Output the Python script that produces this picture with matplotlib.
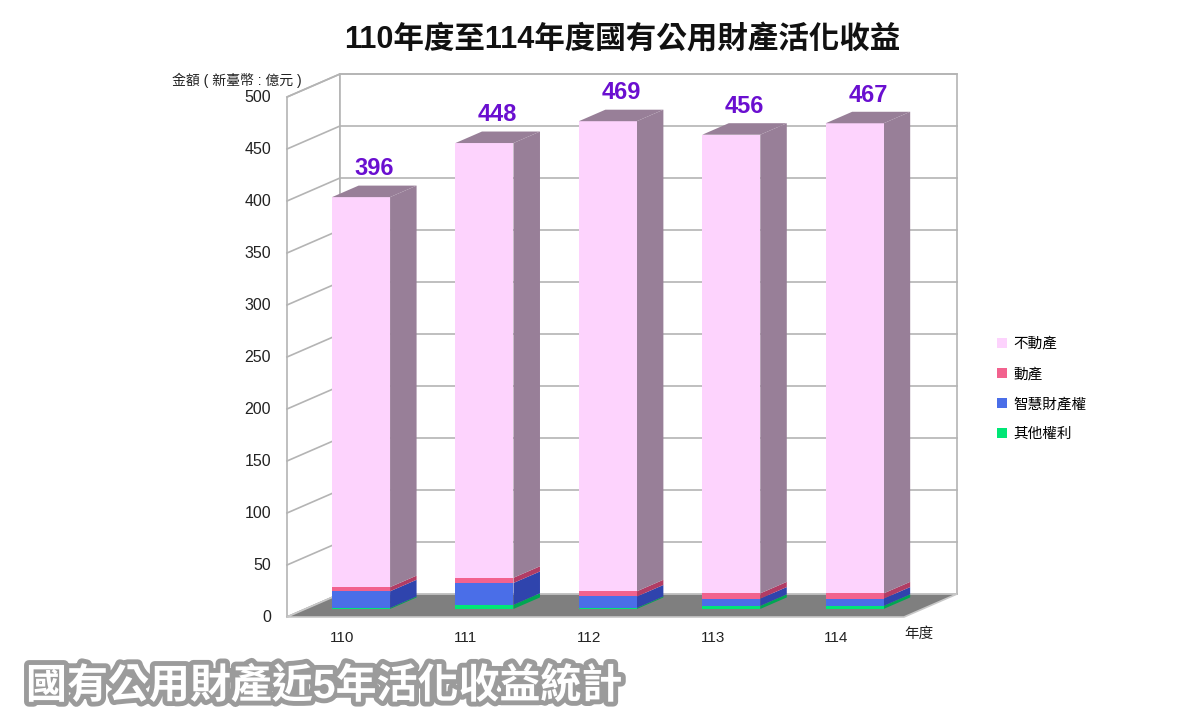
import matplotlib
matplotlib.use('Agg')
import matplotlib.pyplot as plt
from matplotlib.patches import Polygon, Patch
import matplotlib.patheffects as pe

plt.rcParams['font.family'] = ['Liberation Sans', 'Noto Sans CJK TC', 'DejaVu Sans']

years = ['110', '111', '112', '113', '114']
series = ['不動產', '動產', '智慧財產權', '其他權利']
# stacked from the bottom: 其他權利, 智慧財產權, 動產, 不動產
other_rights = [1, 4, 1, 3, 3]
ip_rights = [16, 21, 11, 7, 7]
movables = [4, 5, 5, 5, 5]
real_estate = [375, 418, 452, 441, 452]
totals = [396, 448, 469, 456, 467]
yticks = list(range(0, 501, 50))

front = {'其他權利': '#00e676', '智慧財產權': '#4a6ee8', '動產': '#f2628e', '不動產': '#fdd3fd'}
side = {'其他權利': '#00a653', '智慧財產權': '#2f44ad', '動產': '#b13c64', '不動產': '#987f98'}

W, H = 1200, 726
fig = plt.figure(figsize=(W / 100, H / 100), dpi=100)
ax = fig.add_axes([0, 0, 1, 1])
ax.axis('off')

# px mapping: x=0 -> 287px, x=5 -> 904px ; y=0 -> 617px, y=500 -> 97px
xs = 617 / 5.0
ys = 520 / 500.0
ax.set_xlim(-287 / xs, (W - 287) / xs)
ax.set_ylim(-(H - 617) / ys, 617 / ys)

# wall depth offset
wdx, wdy = 53 / xs, 23 / ys
grid_c = '#b4b4b4'

# left wall, back wall, floor
ax.add_patch(Polygon([(0, 0), (wdx, wdy), (wdx, 500 + wdy), (0, 500)],
                     closed=True, fc='white', ec=grid_c, lw=1.2, zorder=1))
ax.add_patch(Polygon([(wdx, wdy), (5 + wdx, wdy), (5 + wdx, 500 + wdy), (wdx, 500 + wdy)],
                     closed=True, fc='white', ec=grid_c, lw=1.2, zorder=1))
for v in yticks:
    ax.plot([0, wdx, 5 + wdx], [v, v + wdy, v + wdy], color=grid_c, lw=1.2, zorder=1.5)
    ax.text(-16 / xs, v, str(v), ha='right', va='center', fontsize=11.5, color='#222222')
ax.add_patch(Polygon([(0, 0), (5, 0), (5 + wdx, wdy), (wdx, wdy)],
                     closed=True, fc='#7f7f7f', ec='#c8c8c8', lw=1.2, zorder=2))

# bars
depth_frac = 0.35
bdx, bdy = wdx * 0.5, wdy * 0.5
bw = 58 / xs
stack = [('其他權利', other_rights), ('智慧財產權', ip_rights),
         ('動產', movables), ('不動產', real_estate)]
for i, yr in enumerate(years):
    cx = i + 0.45 + wdx * depth_frac
    base = wdy * depth_frac
    x0, x1 = cx - bw / 2, cx + bw / 2
    bottom = base
    for name, vals in stack:
        top = bottom + vals[i]
        z = 3 + 5 - i
        ax.add_patch(Polygon([(x1, bottom), (x1 + bdx, bottom + bdy), (x1 + bdx, top + bdy), (x1, top)],
                             closed=True, fc=side[name], ec='none', zorder=z))
        ax.add_patch(Polygon([(x0, bottom), (x1, bottom), (x1, top), (x0, top)],
                             closed=True, fc=front[name], ec='none', zorder=z + 0.1))
        bottom = top
    ax.add_patch(Polygon([(x0, bottom), (x1, bottom), (x1 + bdx, bottom + bdy), (x0 + bdx, bottom + bdy)],
                         closed=True, fc=side['不動產'], ec='none', zorder=3 + 5 - i + 0.2))
    ax.text(cx + bdx / 2, bottom + bdy + 5, str(totals[i]), ha='center', va='bottom',
            fontsize=17, fontweight='bold', color='#6a0fd0', zorder=20)
    ax.text(i + 0.45, -20, yr, ha='center', va='center', fontsize=11, color='#222222')

ax.text(5.0, -16, '年度', ha='left', va='center', fontsize=10.5, color='#222222')

fig.text(622 / W, 1 - 40 / H, '110年度至114年度國有公用財產活化收益',
         ha='center', va='center', fontsize=22, fontweight='bold', color='#111111')
fig.text(172 / W, 1 - 80 / H, '金額 ( 新臺幣 : 億元 )', ha='left', va='center',
         fontsize=10, color='#222222')

handles = [Patch(fc=front[s], ec='none', label=s) for s in series]
fig.legend(handles=handles, loc='center left', bbox_to_anchor=(984 / W, 1 - 389 / H),
           frameon=False, fontsize=10.5, handlelength=0.7, handleheight=0.7,
           handletextpad=0.4, labelspacing=1.1)

fig.text(26 / W, 1 - 686 / H, '國有公用財產近5年活化收益統計', ha='left', va='center',
         fontsize=29.5, fontweight='heavy', color='white',
         path_effects=[pe.withStroke(linewidth=7, foreground='#9b9b9b')])

fig.savefig('out.png', dpi=100)
